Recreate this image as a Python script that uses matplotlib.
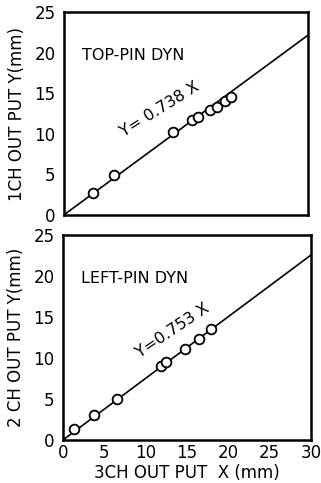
import numpy as np
import matplotlib
matplotlib.use('Agg')
import matplotlib.pyplot as plt

# top panel: TOP-PIN DYN
top_x = [3.6, 6.2, 13.4, 15.7, 16.5, 18.0, 18.8, 19.8, 20.5]
top_y = [2.7, 4.9, 10.2, 11.7, 12.1, 12.9, 13.3, 14.0, 14.5]
top_slope = 0.738

# bottom panel: LEFT-PIN DYN
bot_x = [1.4, 3.8, 6.5, 11.9, 12.5, 14.7, 16.4, 17.9]
bot_y = [1.3, 3.0, 5.0, 9.0, 9.5, 11.1, 12.3, 13.5]
bot_slope = 0.753

FONT = 'DejaVu Sans'
plt.rcParams['font.family'] = FONT

fig = plt.figure(figsize=(3.21, 4.83), dpi=100)
ax1 = fig.add_axes([0.199, 0.555, 0.760, 0.420])
ax2 = fig.add_axes([0.196, 0.089, 0.773, 0.424])


def panel(ax, xs, ys, slope, title, eq, eq_pos, eq_rot, ylabel):
    line_x = np.array([0, 30])
    ax.plot(line_x, slope * line_x, color='black', lw=1.2, zorder=2)
    ax.plot(xs, ys, 'o', mfc='white', mec='black', mew=1.3, ms=7, zorder=3)
    ax.set_xlim(0, 30)
    ax.set_ylim(0, 25)
    ax.set_yticks([0, 5, 10, 15, 20, 25])
    ax.set_xticks([0, 5, 10, 15, 20, 25, 30])
    ax.tick_params(direction='in', length=0, labelsize=12, pad=6)
    for s in ax.spines.values():
        s.set_linewidth(1.8)
    ax.text(2.2, 19.7, title, fontsize=11.5, va='center', ha='left')
    ax.text(eq_pos[0], eq_pos[1], eq, fontsize=11.5, rotation=eq_rot,
            ha='center', va='center')
    ax.set_ylabel(ylabel, fontsize=12, labelpad=6)


panel(ax1, top_x, top_y, top_slope, 'TOP-PIN DYN', 'Y= 0.738 X', (11.8, 13.0), 32, '1CH OUT PUT Y(mm)')
panel(ax2, bot_x, bot_y, bot_slope, 'LEFT-PIN DYN', 'Y=0.753 X', (13.3, 13.4), 34, '2 CH OUT PUT Y(mm)')
ax1.tick_params(labelbottom=False)
ax2.tick_params(axis='x', pad=3)
ax2.set_xlabel('3CH OUT PUT  X (mm)', fontsize=12, labelpad=1)

fig.savefig('out.png', dpi=100)
